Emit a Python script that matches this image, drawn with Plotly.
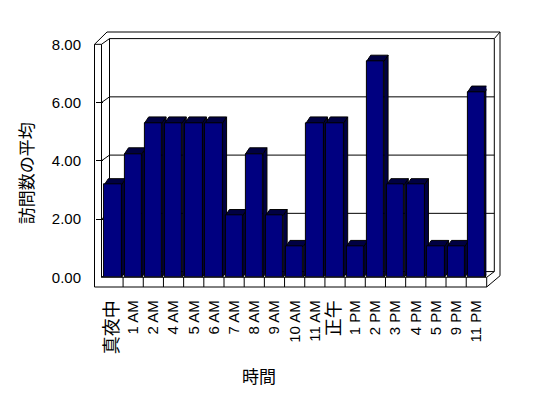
import plotly.graph_objects as go

# ---- data ----
categories = ["真夜中", "1 AM", "2 AM", "4 AM", "5 AM", "6 AM", "7 AM", "8 AM", "9 AM",
              "10 AM", "11 AM", "正午", "1 PM", "2 PM", "3 PM", "4 PM", "5 PM", "9 PM", "11 PM"]
values = [3.18, 4.24, 5.30, 5.30, 5.30, 5.30, 2.12, 4.24, 2.12,
          1.06, 5.30, 5.30, 1.06, 7.42, 3.18, 3.18, 1.06, 1.06, 6.36]
y_ticks = [0, 2, 4, 6, 8]
y_ticktext = ["0.00", "2.00", "4.00", "6.00", "8.00"]
x_title = "時間"
y_title = "訪問数の平均"

W, H = 548, 398
OFF = 8  # page body margin
# plot-area in screen pixels
L, R, T, B = 95, 500, 32, 286.7
PW, PH = R - L, B - T
X0, X1 = 102.9, 486.4      # category axis span
Y0, Y8 = 277.0, 44.3       # value axis span


def px(x):
    return (x - L) / PW


def py(y):
    return (B - y) / PH


def yfront(v):
    return Y0 - v * (Y0 - Y8) / 8.0


n = len(categories)
idx = list(range(n))
BW = 0.86
DDX = 4.0 / ((X1 - X0) / n)
DDY = 6.0 * 8.0 / (Y0 - Y8)

FONT = "Liberation Sans, Arial, Noto Sans CJK JP, sans-serif"
CJK = "Noto Sans CJK JP"


def fmt_label(s):
    if any(ord(c) > 0x2E80 for c in s):
        return '<span style="font-family:%s;font-size:18px">%s</span>' % (CJK, s)
    return s


# side & cap polygons computed from the data
sx, sy, cx, cy = [], [], [], []
for i, v in zip(idx, values):
    r = i + BW / 2
    l = i - BW / 2
    sx += [r, r, r + DDX, r + DDX, r, None]
    sy += [0, v, v + DDY, DDY, 0, None]
    cx += [l, l + DDX, r + DDX, r, l, None]
    cy += [v, v + DDY, v + DDY, v, v, None]

dark = "#000042"
fig = go.Figure()
fig.add_trace(go.Scatter(x=sx, y=sy, mode="lines", fill="toself", fillcolor=dark,
                         line=dict(color="black", width=1), hoverinfo="skip", showlegend=False))
fig.add_trace(go.Scatter(x=cx, y=cy, mode="lines", fill="toself", fillcolor=dark,
                         line=dict(color="black", width=1), hoverinfo="skip", showlegend=False))
fig.add_trace(go.Bar(x=idx, y=values, width=BW, marker=dict(color="#000080",
                     line=dict(color="black", width=1)), xaxis="x2", yaxis="y2",
                     showlegend=False))

xdom = [px(X0), px(X1)]
ydom = [py(Y0), py(Y8)]

fig.update_layout(
    width=W, height=H,
    margin=dict(l=L - OFF, r=W - (R - OFF), t=T - OFF, b=H - (B - OFF), pad=0),
    paper_bgcolor="white", plot_bgcolor="rgba(0,0,0,0)",
    font=dict(family=FONT, size=15, color="black"),
    bargap=0,
    xaxis=dict(domain=xdom, range=[-0.5, n - 0.5], tickmode="array", tickvals=idx,
               ticktext=[fmt_label(c) for c in categories], tickangle=-90,
               showgrid=False, zeroline=False, showline=False, ticks="",
               ticklabelstandoff=19, fixedrange=True),
    yaxis=dict(domain=ydom, range=[0, 8], tickmode="array", tickvals=y_ticks,
               ticktext=y_ticktext, anchor="free", position=0, showgrid=False,
               zeroline=False, showline=False, ticks="inside", ticklen=7,
               tickcolor="black", tickwidth=1, ticklabelstandoff=14, fixedrange=True),
    xaxis2=dict(domain=xdom, range=[-0.5, n - 0.5], overlaying="x", visible=False),
    yaxis2=dict(domain=ydom, range=[0, 8], overlaying="y", visible=False),
)

# ---- 3D frame (walls & floor) ----
lines = []
WDX, WDY = 8.0, 5.7
ln = dict(color="black", width=1)


def seg(x0, y0, x1, y1):
    lines.append(dict(type="line", xref="paper", yref="paper", x0=px(x0), y0=py(y0),
                      x1=px(x1), y1=py(y1), line=ln, layer="below"))


# back wall gridlines and wall ticks
for v in y_ticks:
    yf = yfront(v)
    seg(101.5, yf, 101.5 + WDX, yf - WDY)
    seg(101.5 + WDX, yf - WDY, 494.3, yf - WDY)
# left wall
seg(94.5, 44.3, 94.5, B)
seg(101.5, 44.3, 101.5, Y0)
seg(94.5, 44.3, 101.5, 44.3)
seg(94.5, 44.3, 107.0, 32.0)
seg(109.5, 38.6, 109.5, Y0 - WDY)
# back wall outer
seg(107.0, 32.0, 500.0, 32.0)
seg(500.0, 32.0, 500.0, 275.5)
seg(494.3, 38.6, 500.0, 32.0)
seg(494.3, 38.6, 494.3, Y0 - WDY)
# floor
seg(94.5, B, 486.7, B)
seg(101.5, Y0, 486.7, Y0)
seg(486.7, Y0, 486.7, B)
seg(486.7, Y0, 494.3, Y0 - WDY)
seg(486.7, B, 500.0, 275.5)
for i in idx[:-1]:
    lines.append(dict(type="line", xref="x", yref="paper", x0=i + 0.5, x1=i + 0.5,
                      y0=py(Y0), y1=py(B), line=ln, layer="below"))
fig.update_layout(shapes=lines)

fig.add_annotation(text=y_title, xref="paper", yref="paper", x=px(25), y=py(173),
                   xanchor="center", yanchor="middle",
                   textangle=-90, showarrow=False, font=dict(family=CJK, size=17))
fig.add_annotation(text=x_title, xref="paper", yref="paper", x=px(259), y=py(375),
                   xanchor="center", yanchor="middle",
                   showarrow=False, font=dict(family=CJK, size=17))

fig.write_html("out.html")
